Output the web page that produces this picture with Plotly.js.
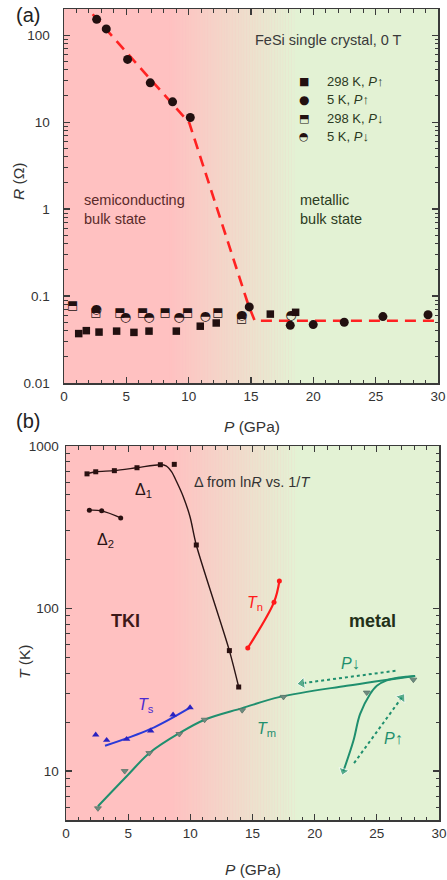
<!DOCTYPE html>
<html>
<head>
<meta charset="utf-8">
<script src="https://cdn.plot.ly/plotly-3.0.1.min.js"></script>
<style>html,body{margin:0;padding:0;background:#fff;}#chart{width:447px;height:880px;}</style>
</head>
<body>
<div id="chart"></div>
<script>
// ---------- Panel (a): R vs P ----------
const P_5K_up   = [2.62, 3.39, 5.10, 6.92, 8.71, 10.13, 14.86, 18.15, 19.99, 22.48, 25.58, 29.2];
const R_5K_up   = [152, 118, 52.6, 28.3, 17.1, 11.3, 0.075, 0.046, 0.047, 0.050, 0.058, 0.061];
const P_298K_up = [1.18, 1.79, 2.81, 4.22, 5.61, 6.82, 9.01, 10.93, 12.21, 16.55, 18.58];
const R_298K_up = [0.037, 0.040, 0.0385, 0.0395, 0.0382, 0.0395, 0.0395, 0.045, 0.049, 0.062, 0.065];
const P_298K_dn = [0.69, 2.57, 4.49, 6.31, 8.12, 9.92, 12.35, 14.25];
const R_298K_dn = [0.077, 0.063, 0.064, 0.064, 0.064, 0.064, 0.064, 0.055];
const P_5K_dn   = [2.59, 4.92, 6.82, 9.22, 11.33, 14.25, 18.2];
const R_5K_dn   = [0.070, 0.0556, 0.0556, 0.0556, 0.0572, 0.0586, 0.060];
const P_guideA  = [2.3, 10.05, 14.8, 15.3, 30];
const R_guideA  = [174, 9.8, 0.078, 0.052, 0.052];
const legendA   = ["298 K, <i>P</i>↑", "5 K, <i>P</i>↑", "298 K, <i>P</i>↓", "5 K, <i>P</i>↓"];
const legendGlyph = ["■", "●", "⬒", "◓"];

// ---------- Panel (b): T vs P ----------
const P_d1 = [1.69, 2.39, 3.89, 5.71, 7.59, 8.71, 10.48, 13.14, 13.89];
const T_d1 = [674, 694, 705, 735, 767, 771, 246, 55.1, 32.9];
const P_d1fit = [1.69, 2.39, 3.89, 5.71, 7.59, 8.05, 8.50, 8.90, 9.44, 9.98, 10.48, 13.14, 13.89];
const T_d1fit = [674, 694, 705, 735, 767, 755, 693, 602, 486, 366, 246, 55.1, 32.9];
const P_d2 = [1.88, 2.87, 4.40];
const T_d2 = [403, 399, 361];
const P_Tn = [14.62, 16.73, 17.16];
const T_Tn = [57.2, 109.5, 147.5];
const P_Ts = [2.39, 3.27, 4.88, 6.81, 8.61, 9.98];
const T_Ts = [16.7, 15.5, 15.7, 17.7, 22.2, 24.6];
const P_Tsfit = [3.14, 6.76, 9.98];
const T_Tsfit = [14.3, 18.1, 24.6];
const P_Tm = [2.57, 4.72, 6.70, 9.12, 11.15, 14.17, 17.49, 24.19, 27.94];
const T_Tm = [5.9, 10.0, 12.9, 16.9, 20.7, 23.7, 28.6, 30.4, 36.5];
const P_Tmfit = [2.57, 4.88, 6.76, 9.17, 11.15, 14.17, 17.22, 22.58, 28.08];
const T_Tmfit = [6.08, 9.3, 13.0, 17.2, 20.7, 24.4, 28.6, 33.5, 38.5];
const P_Tmdown = [28.08, 26.8, 25.75, 25.0, 24.46, 23.65, 23.11, 22.31];
const T_Tmdown = [38.5, 37.6, 36.0, 33.5, 29.8, 22.4, 15.3, 10.0];
const P_arrowDn = [26.5, 18.98];
const T_arrowDn = [41.4, 34.7];
const P_arrowUp = [23.17, 27.0];
const T_arrowUp = [11.2, 28.3];

// ---------- geometry (pixel targets -> domain fractions) ----------
const W = 447, H = 880, ML = 64, MR = 8, MT = 9, MB = 60;
const PW = W - ML - MR, PH = H - MT - MB;
const A = {x0: 64, x1: 438, y0: 9, y1: 383};
const B = {x0: 66, x1: 439, y0: 446, y1: 820};
const fx = (P, x) => (x - P.x0) / (P.x1 - P.x0);
const fy = (P, y) => (P.y1 - y) / (P.y1 - P.y0);

const dark = '#221010';
const green = '#1f8f6e';
const font = 'Liberation Sans, Arial, sans-serif';

const traces = [
  {x: P_guideA, y: R_guideA, mode: 'lines', line: {color: '#ff2222', width: 2.6, dash: '11px,7px'}, xaxis: 'x', yaxis: 'y'},
  {x: P_298K_dn, y: R_298K_dn, mode: 'text', text: P_298K_dn.map(() => '⬒'), textfont: {family: 'DejaVu Sans', size: 12, color: dark}, xaxis: 'x', yaxis: 'y'},
  {x: P_5K_dn, y: R_5K_dn, mode: 'text', text: P_5K_dn.map(() => '◓'), textfont: {family: 'DejaVu Sans', size: 13, color: dark}, xaxis: 'x', yaxis: 'y'},
  {x: P_298K_up, y: R_298K_up, mode: 'markers', marker: {symbol: 'square', size: 7.5, color: dark}, xaxis: 'x', yaxis: 'y'},
  {x: P_5K_up, y: R_5K_up, mode: 'markers', marker: {symbol: 'circle', size: 9, color: dark}, xaxis: 'x', yaxis: 'y'},
  {x: P_d1fit, y: T_d1fit, mode: 'lines', line: {color: '#2a1414', width: 1.4, shape: 'spline', smoothing: 0.8}, xaxis: 'x2', yaxis: 'y2'},
  {x: P_d1, y: T_d1, mode: 'markers', marker: {symbol: 'square', size: 5, color: '#2a1010'}, xaxis: 'x2', yaxis: 'y2'},
  {x: P_d2, y: T_d2, mode: 'lines+markers', line: {color: '#2a1414', width: 1.4, shape: 'spline'}, marker: {symbol: 'circle', size: 5, color: '#2a1010'}, xaxis: 'x2', yaxis: 'y2'},
  {x: P_Tn, y: T_Tn, mode: 'lines+markers', line: {color: '#ff1a1a', width: 2.2, shape: 'spline'}, marker: {symbol: 'circle', size: 5, color: '#ff1a1a'}, xaxis: 'x2', yaxis: 'y2'},
  {x: P_Tsfit, y: T_Tsfit, mode: 'lines', line: {color: '#2a3ad8', width: 2, shape: 'spline'}, xaxis: 'x2', yaxis: 'y2'},
  {x: P_Ts, y: T_Ts, mode: 'markers', marker: {symbol: 'triangle-up', size: 6.5, color: '#2a22c0'}, xaxis: 'x2', yaxis: 'y2'},
  {x: P_Tmfit, y: T_Tmfit, mode: 'lines', line: {color: green, width: 2, shape: 'spline'}, xaxis: 'x2', yaxis: 'y2'},
  {x: P_Tmdown, y: T_Tmdown, mode: 'lines+markers', line: {color: green, width: 2, shape: 'spline', smoothing: 1},
   marker: {symbol: 'triangle-up', angleref: 'previous', size: P_Tmdown.map((v, i) => i === P_Tmdown.length - 1 ? 9 : 0), color: green}, xaxis: 'x2', yaxis: 'y2'},
  {x: P_Tm, y: T_Tm, mode: 'markers', marker: {symbol: 'triangle-down', size: 6, color: '#6f8c80', line: {color: '#5a7468', width: 0.8}}, xaxis: 'x2', yaxis: 'y2'},
  {x: P_arrowDn, y: T_arrowDn, mode: 'lines+markers', line: {color: green, width: 2, dash: 'dot'},
   marker: {symbol: 'triangle-up', angleref: 'previous', size: [0, 10], color: green}, xaxis: 'x2', yaxis: 'y2'},
  {x: P_arrowUp, y: T_arrowUp, mode: 'lines+markers', line: {color: green, width: 2, dash: 'dot'},
   marker: {symbol: 'triangle-up', angleref: 'previous', size: [0, 10], color: green}, xaxis: 'x2', yaxis: 'y2'}
];
traces.forEach(t => { t.showlegend = false; t.hoverinfo = 'skip'; t.cliponaxis = true; });

const pink = [255, 193, 193], grn = [227, 242, 212];
const g0 = 8.5, g1 = 18.5, nStrip = 80;
function bgShapes(xref, yref) {
  const s = [];
  const col = c => `rgb(${c[0]},${c[1]},${c[2]})`;
  s.push({type: 'rect', xref, yref, x0: 0, x1: g0, y0: 0, y1: 1, fillcolor: col(pink), line: {width: 0}, layer: 'below'});
  s.push({type: 'rect', xref, yref, x0: g1, x1: 30, y0: 0, y1: 1, fillcolor: col(grn), line: {width: 0}, layer: 'below'});
  const dx = (g1 - g0) / nStrip;
  for (let i = 0; i < nStrip; i++) {
    const f = (i + 0.5) / nStrip;
    const c = pink.map((v, k) => Math.round(v + (grn[k] - v) * f));
    s.push({type: 'rect', xref, yref, x0: g0 + i * dx, x1: g0 + (i + 1) * dx + 0.02, y0: 0, y1: 1, fillcolor: col(c), line: {width: 0}, layer: 'below'});
  }
  return s;
}

function logMinor(lo, hi) {
  const v = [];
  for (let e = lo; e < hi; e++) for (let m = 2; m <= 9; m++) v.push(m * Math.pow(10, e));
  return v;
}

const axisCommon = {
  showline: true, linecolor: '#3a3a3a', linewidth: 1.5, mirror: 'ticks',
  ticks: 'inside', ticklen: 6, tickwidth: 1.2, tickcolor: '#3a3a3a',
  showgrid: false, zeroline: false,
  tickfont: {family: font, size: 13.5, color: '#333'}
};

const xCommon = Object.assign({}, axisCommon, {range: [0, 30], dtick: 5, tick0: 0, minor: {dtick: 1, ticklen: 3.5, tickwidth: 1, tickcolor: '#3a3a3a', ticks: 'inside'}});
const pyPaper = y => (H - MB - y) / PH;

const layout = {
  width: W, height: H,
  margin: {l: ML, r: MR, t: MT, b: MB},
  paper_bgcolor: '#ffffff', plot_bgcolor: 'rgb(255,193,193)',
  font: {family: font, color: '#333'},
  xaxis: Object.assign({}, xCommon, {domain: [0, 374 / PW], anchor: 'y'}),
  yaxis: Object.assign({}, axisCommon, {type: 'log', domain: [pyPaper(383), 1], anchor: 'x',
    range: [-2, Math.log10(200)], tickmode: 'array', tickvals: [0.01, 0.1, 1, 10, 100], ticktext: ['0.01', '0.1', '1', '10', '100'],
    ticklabelstandoff: 10,
    minor: {tickmode: 'array', tickvals: logMinor(-2, 3).filter(v => v <= 200), ticklen: 3.5, tickwidth: 1, tickcolor: '#3a3a3a', ticks: 'inside'}}),
  xaxis2: Object.assign({}, xCommon, {domain: [2 / PW, 1], anchor: 'y2'}),
  yaxis2: Object.assign({}, axisCommon, {type: 'log', domain: [0, pyPaper(446)], anchor: 'x2',
    range: [Math.log10(5), 3], tickmode: 'array', tickvals: [10, 100, 1000], ticktext: ['10', '100', '1000'],
    ticklabelstandoff: 3,
    minor: {tickmode: 'array', tickvals: logMinor(0, 3).filter(v => v >= 5), ticklen: 3.5, tickwidth: 1, tickcolor: '#3a3a3a', ticks: 'inside'}}),
  shapes: bgShapes('x', 'y domain').concat(bgShapes('x2', 'y2 domain')),
  annotations: []
};

const ann = layout.annotations;
function addText(panel, text, x, y, opts) {
  const P = panel === 'a' ? A : B;
  const xr = panel === 'a' ? 'x domain' : 'x2 domain';
  const yr = panel === 'a' ? 'y domain' : 'y2 domain';
  ann.push(Object.assign({text, x: fx(P, x), y: fy(P, y), xref: xr, yref: yr, showarrow: false,
    xanchor: 'center', yanchor: 'middle', font: {family: font, size: 14, color: '#333'}}, opts || {}));
}
const axFont = {family: font, size: 15.5, color: '#333'};
addText('a', '<i>P</i> (GPa)', 252, 427, {font: axFont});
addText('b', '<i>P</i> (GPa)', 253, 869, {font: axFont});
addText('a', '<i>R</i> (Ω)', 19, 182, {textangle: -90, font: axFont});
addText('b', '<i>T</i> (K)', 24, 662, {textangle: -90, font: axFont});
addText('a', '(a)', 14, 15, {xanchor: 'left', font: {family: font, size: 20, color: '#222'}});
addText('b', '(b)', 14, 421, {xanchor: 'left', font: {family: font, size: 20, color: '#222'}});
addText('a', 'FeSi single crystal, 0 T', 328, 40, {font: {family: font, size: 14.5, color: '#3a3a3a'}});
addText('a', 'semiconducting<br>bulk state', 82, 210, {xanchor: 'left', align: 'left', font: {family: font, size: 14.5, color: '#5a2a2a'}});
addText('a', 'metallic<br>bulk state', 298, 210, {xanchor: 'left', align: 'left', font: {family: font, size: 14.5, color: '#2c3c22'}});
const legY = [82, 100, 118.5, 136.5];
legendA.forEach((t, i) => {
  addText('a', legendGlyph[i], 304, legY[i], {font: {family: 'DejaVu Sans', size: i === 1 ? 12 : 11, color: dark}});
  addText('a', t, 325, legY[i], {xanchor: 'left', font: {family: font, size: 13, color: '#2c3a22'}});
});
addText('b', 'TKI', 125, 621, {font: {family: font, size: 18, color: '#3d1818', weight: 'bold'}});
addText('b', 'metal', 372, 621, {font: {family: font, size: 18, color: '#223018', weight: 'bold'}});
addText('b', 'Δ<sub>1</sub>', 143, 491, {font: {family: font, size: 16, color: '#2a1414'}});
addText('b', 'Δ<sub>2</sub>', 105, 540, {font: {family: font, size: 16, color: '#2a1414'}});
addText('b', 'Δ from ln<i>R</i> vs. 1/<i>T</i>', 192, 482, {xanchor: 'left', font: {family: font, size: 14.5, color: '#333'}});
addText('b', '<i>T</i><sub>n</sub>', 255, 603, {font: {family: font, size: 16, color: '#ff1a1a'}});
addText('b', '<i>T</i><sub>s</sub>', 146, 705, {font: {family: font, size: 16, color: '#4a2ad0'}});
addText('b', '<i>T</i><sub>m</sub>', 266, 729, {font: {family: font, size: 16, color: green}});
addText('b', '<i>P</i>↓', 350, 663, {font: {family: font, size: 16, color: green}});
addText('b', '<i>P</i>↑', 393, 738, {font: {family: font, size: 16, color: green}});

Plotly.newPlot('chart', traces, layout, {displayModeBar: false, staticPlot: true});
</script>
</body>
</html>
